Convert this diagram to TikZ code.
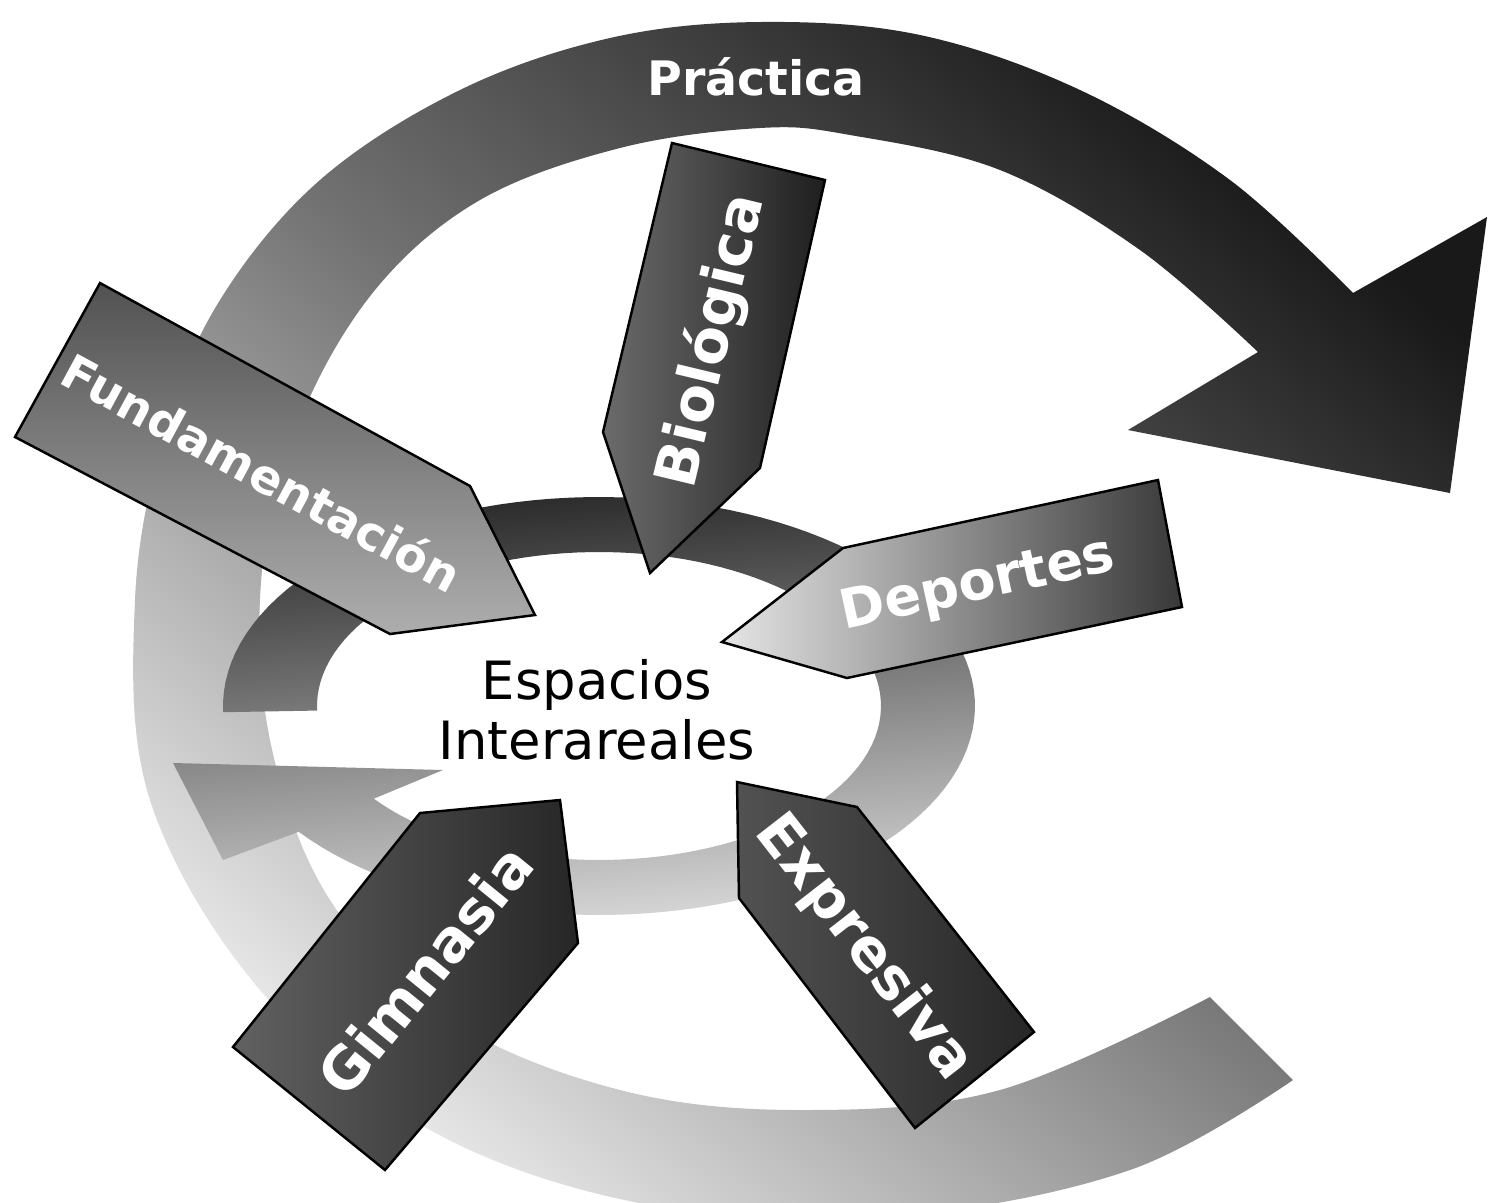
\documentclass[tikz,border=0pt]{standalone}
\usepackage{fontspec}
\setmainfont{DejaVu Sans}
\def\Centre{Espacios\\Interareales}

\begin{document}
\begin{tikzpicture}[% one unit is one pixel of the scan, y runs downwards
				x=0.01cm, y=-0.01cm,
				every node/.style={
					align=center,  		% use this so that the "\\" for line break works
					inner sep=0pt
				},
				armtext/.style={text=white,font=\bfseries\fontsize{#1}{#1}\selectfont},
				armtext/.default=16,
				blockarrow/.style={draw=black,line width=0.7pt,line join=miter}
			]
			\fill[white] (0,0) rectangle (1490,1202);
			\useasboundingbox (0,0) rectangle (1490,1202);
			% outer arrow (Practica)
			\shade[top color=black!90,bottom color=black!10,middle color=black!55,shading angle=-40]
				plot[smooth,tension=0.6] coordinates {(1293,1080) (1130,1170) (900,1215) (650,1205) (430,1130) (260,990) (150,800) (135,600) (165,430) (220,300) (320,180) (460,90) (610,38) (760,22) (920,35) (1080,90) (1230,180) (1353,293)}
				-- (1487,217) -- (1450,493) -- (1128,430)
				-- plot[smooth,tension=0.6] coordinates {(1258,352) (1140,250) (1000,170) (850,135) (760,128) (620,148) (480,200) (375,290) (300,420) (262,570) (270,740) (330,900) (450,1020) (620,1090) (800,1110) (1000,1090) (1210,997)}
				-- cycle;
			% inner ring
			\shade[top color=black!85,bottom color=black!15,shading angle=5]
				plot[domain=178.3:503,samples=120,variable=\t] ({599+376*cos(\t)},{706+209*sin(\t)})
				-- (223,860) -- (173,763) -- (443,770)
				-- plot[domain=503:178.3,samples=120,variable=\t] ({599+282*cos(\t)},{706+154*sin(\t)})
				-- cycle;
			% block arrows
			\shadedraw[blockarrow,left color=black!58,right color=black!88] (672,143) -- (825,180) -- (760,468) -- (650,573) -- (603,432) -- cycle;
			\shadedraw[blockarrow,top color=black!68,bottom color=black!32] (100,283) -- (470,486) -- (535,615) -- (390,634) -- (15,437) -- cycle;
			\shadedraw[blockarrow,left color=black!10,right color=black!78] (722,642) -- (843,548) -- (1158,480) -- (1182,607) -- (847,678) -- cycle;
			\shadedraw[blockarrow,left color=black!68,right color=black!85] (737,782) -- (857,807) -- (1034,1032) -- (915,1128) -- (739,898) -- cycle;
			\shadedraw[blockarrow,left color=black!62,right color=black!85] (560,800) -- (578,943) -- (385,1170) -- (233,1047) -- (420,813) -- cycle;
			% labels
			\node[armtext=13.5,anchor=base](prac) at (756,95) {Práctica};
			\node[armtext=16.5,rotate=76.5](bio) at (712,341) {Biológica};
			\node[armtext=13.5,rotate=-28.4](fund) at (262,472) {Fundamentación};
			\node[armtext=15.4,rotate=12.3](dep) at (978,586) {Deportes};
			\node[armtext=16.5,rotate=-52.1](expr) at (864,948) {Expresiva};
			\node[armtext=16.5,rotate=50.9](gim) at (425,970) {Gimnasia};
			\node[font=\fontsize{15}{17}\selectfont,text=black](centre) at (597,710) {\Centre};
		\end{tikzpicture}
\end{document}
